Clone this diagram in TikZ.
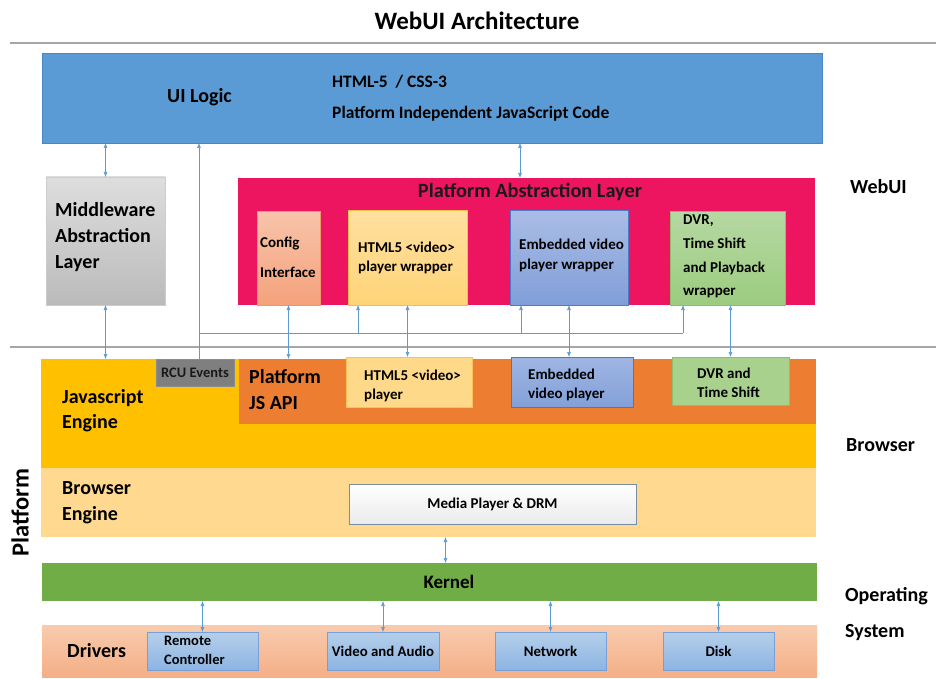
\documentclass[tikz,border=0pt]{standalone}
\usepackage{fontspec}
\setmainfont{Carlito}
\usetikzlibrary{arrows.meta}
\definecolor{uiblue}{HTML}{5B9BD5}
\definecolor{uiborder}{HTML}{4A86BF}
\definecolor{arrowblue}{HTML}{5B9BD5}
\definecolor{palpink}{HTML}{EE1560}
\definecolor{jsyellow}{HTML}{FFC000}
\definecolor{jsorange}{HTML}{ED7D31}
\definecolor{browserlt}{HTML}{FFD98F}
\definecolor{kernelgreen}{HTML}{70AD47}
\definecolor{rcugray}{HTML}{7F7F7F}
\tikzset{
  blk/.style={inner sep=0pt, outer sep=0pt, anchor=north west},
  conn/.style={draw=arrowblue, line width=0.6pt},
  dbl/.style={conn, {Latex[length=5pt,width=4pt]}-{Latex[length=5pt,width=4pt]}},
  upar/.style={conn, -{Latex[length=5pt,width=4pt]}},
  big/.style={font=\bfseries\fontsize{20}{26}\selectfont, inner sep=0pt, align=left, anchor=west},
  small/.style={font=\bfseries\fontsize{15}{19}\selectfont, inner sep=0pt, align=left, anchor=west},
  sepline/.style={draw=gray!70, line width=1.4pt},
}
\begin{document}
\begin{tikzpicture}[x=1pt,y=-1pt]
\useasboundingbox (0,0) rectangle (936,679);
% title and separators
\node[font=\bfseries\fontsize{25}{28}\selectfont, inner sep=0pt] (title) at (477,21) {WebUI Architecture};
\draw[sepline] (10,43) -- (936,43);
\draw[sepline] (10,347) -- (936,347);

% UI Logic
\node[blk, fill=uiblue, draw=uiborder, line width=0.5pt, minimum width=780pt, minimum height=90pt] (ui) at (42,53) {};
\node[big] (uilbl) at (167,97) {UI Logic};
\node[font=\bfseries\fontsize{17.5}{20}\selectfont, inner sep=0pt, anchor=west] (html) at (332,82) {HTML-5 \ / CSS-3};
\node[font=\bfseries\fontsize{17.5}{20}\selectfont, inner sep=0pt, anchor=west] (pijs) at (332,114) {Platform Independent JavaScript Code};

% Middleware
\node[blk, top color=black!13, bottom color=black!27, draw=black!20, line width=0.4pt, minimum width=119pt, minimum height=128pt] (mw) at (46,177) {};
\node[big] (mwlbl) at (55,237) {Middleware\\Abstraction\\Layer};

% Platform Abstraction Layer
\node[blk, fill=palpink, minimum width=577pt, minimum height=127pt] (pal) at (238,178) {};
\node[font=\bfseries\fontsize{20.3}{24}\selectfont, inner sep=0pt, text=black!90] (pallbl) at (530,192) {Platform Abstraction Layer};
\node[blk, top color={rgb,255:red,248;green,196;blue,170}, bottom color={rgb,255:red,244;green,162;blue,124}, draw={rgb,255:red,240;green,150;blue,110}, line width=0.4pt, minimum width=63pt, minimum height=94pt] (cfg) at (257,211) {};
\node[small, font=\bfseries\fontsize{15}{30}\selectfont] (cfglbl) at (260,257) {Config\\Interface};
\node[blk, top color={rgb,255:red,255;green,224;blue,160}, bottom color={rgb,255:red,255;green,212;blue,120}, draw={rgb,255:red,244;green,190;blue,80}, line width=0.4pt, minimum width=119pt, minimum height=95pt] (hw) at (348,210) {};
\node[small] (hwlbl) at (358,257.5) {HTML5 <video>\\player wrapper};
\node[blk, top color={rgb,255:red,170;green,189;blue,230}, bottom color={rgb,255:red,128;green,158;blue,216}, draw={rgb,255:red,80;green,120;blue,200}, line width=0.4pt, minimum width=118pt, minimum height=95pt] (ew) at (510,210) {};
\node[small, font=\bfseries\fontsize{15}{20}\selectfont] (ewlbl) at (519,255) {Embedded video\\player wrapper};
\node[blk, top color={rgb,255:red,182;green,216;blue,162}, bottom color={rgb,255:red,156;green,204;blue,128}, draw={rgb,255:red,140;green,190;blue,110}, line width=0.4pt, minimum width=115pt, minimum height=94pt] (dw) at (670,211) {};
\node[small, font=\bfseries\fontsize{15}{23.7}\selectfont] (dwlbl) at (683,256.5) {DVR,\\Time Shift\\and Playback\\wrapper};

% right labels
\node[big] (webui) at (850,187) {WebUI};
\node[big] (browser) at (846,445) {Browser};
\node[big, font=\bfseries\fontsize{20}{36}\selectfont] (os) at (845,614) {Operating\\System};

% Javascript engine
\node[blk, fill=jsyellow, minimum width=775pt, minimum height=109pt] (js) at (41,359) {};
\node[big, font=\bfseries\fontsize{20}{25}\selectfont] (jslbl) at (62,410.5) {Javascript\\Engine};
\node[blk, fill=rcugray, draw=black!45, line width=0.4pt, minimum width=78pt, minimum height=27pt] (rcu) at (156,359) {};
\node[font=\bfseries\fontsize{14.5}{16}\selectfont, text=black!90, inner sep=0pt] (rculbl) at (rcu.center) {RCU Events};
\node[blk, fill=jsorange, minimum width=577pt, minimum height=65pt] (jsapi) at (239,359) {};
\node[big, font=\bfseries\fontsize{20}{26}\selectfont] (jsapilbl) at (249,390) {Platform\\JS API};
\node[blk, fill={rgb,255:red,255;green,217;blue,138}, draw={rgb,255:red,250;green,195;blue,90}, line width=0.4pt, minimum width=126pt, minimum height=50pt] (hp) at (346,357) {};
\node[small] (hplbl) at (364,385.5) {HTML5 <video>\\player};
\node[blk, top color={rgb,255:red,160;green,182;blue,228}, bottom color={rgb,255:red,130;green,160;blue,216}, draw={rgb,255:red,80;green,115;blue,195}, line width=0.4pt, minimum width=122pt, minimum height=50pt] (ep) at (511,357) {};
\node[small] (eplbl) at (528,384.5) {Embedded\\video player};
\node[blk, fill={rgb,255:red,169;green,209;blue,142}, draw={rgb,255:red,140;green,190;blue,110}, line width=0.4pt, minimum width=117pt, minimum height=48pt] (dp) at (672,357) {};
\node[small] (dplbl) at (697,382.5) {DVR and\\Time Shift};

% Browser engine
\node[blk, fill=browserlt, minimum width=775pt, minimum height=69pt] (be) at (41,468) {};
\node[big, font=\bfseries\fontsize{20}{26}\selectfont] (belbl) at (62,503) {Browser\\Engine};
\node[blk, top color=white, bottom color=black!8, draw={rgb,255:red,120;green,140;blue,170}, line width=0.6pt, minimum width=287pt, minimum height=40pt] (mp) at (349,484) {};
\node[font=\bfseries\fontsize{15}{17}\selectfont, inner sep=0pt] (mplbl) at (mp.center) {Media Player \& DRM};

% Platform vertical label
\node[font=\bfseries\fontsize{24.5}{26}\selectfont, inner sep=0pt, rotate=90] (platv) at (20,513) {Platform};

% Kernel
\node[blk, fill=kernelgreen, minimum width=775pt, minimum height=38pt] (kern) at (42,563) {};
\node[font=\bfseries\fontsize{19}{22}\selectfont, inner sep=0pt] (kernlbl) at (449,582) {Kernel};

% Drivers
\node[blk, top color={rgb,255:red,248;green,203;blue,173}, bottom color={rgb,255:red,244;green,175;blue,135}, minimum width=775pt, minimum height=52pt] (drv) at (42,625) {};
\node[big] (drvlbl) at (67,651) {Drivers};
\tikzset{drvbox/.style={blk, top color={rgb,255:red,180;green,207;blue,234}, bottom color={rgb,255:red,141;green,180;blue,226}, draw={rgb,255:red,120;green,160;blue,215}, line width=0.4pt, minimum width=111pt, minimum height=38pt}}
\node[drvbox] (rc) at (147,632) {};
\node[small, font=\bfseries\fontsize{14.5}{19}\selectfont] (rclbl) at (164,650) {Remote\\Controller};
\node[drvbox, minimum width=112pt] (va) at (327,632) {};
\node[font=\bfseries\fontsize{14.8}{16}\selectfont, inner sep=0pt] (valbl) at (va.center) {Video and Audio};
\node[drvbox] (net) at (495,632) {};
\node[font=\bfseries\fontsize{14.8}{16}\selectfont, inner sep=0pt] (netlbl) at (net.center) {Network};
\node[drvbox] (disk) at (663,632) {};
\node[font=\bfseries\fontsize{14.8}{16}\selectfont, inner sep=0pt] (disklbl) at (disk.center) {Disk};

% connectors
\draw[dbl] (ui.south -| mw.north) -- (mw.north);
\draw[dbl] (mw.south) -- (mw.south |- js.north);
\draw[dbl] ([xshift=-6.5pt]pal.north |- ui.south) -- ([xshift=-6.5pt]pal.north);
\draw[dbl] (cfg.south) -- (cfg.south |- jsapi.north);
\draw[dbl] (hw.south) -- (hw.south |- hp.north);
\draw[dbl] (ew.south) -- (ew.south |- ep.north);
\draw[dbl] (dp.north |- dw.south) -- (dp.north);
% RCU bus
\coordinate (busL) at ([xshift=4pt]rcu.north |- 0,333);
\coordinate (busR) at ([xshift=13pt]dw.south west |- 0,333);
\draw[upar] ([xshift=4pt]rcu.north) -- ([xshift=4pt]rcu.north |- ui.south);
\draw[conn] (busL) -- (busR);
\draw[upar] ([xshift=10pt]hw.south west |- busL) -- ([xshift=10pt]hw.south west);
\draw[upar] ([xshift=11pt]ew.south west |- busL) -- ([xshift=11pt]ew.south west);
\draw[upar] (busR) -- ([xshift=13pt]dw.south west);
% lower connectors
\draw[dbl] ([xshift=17pt]be.south) -- ([xshift=17pt]be.south |- kern.north);
\draw[dbl] (rc.north |- kern.south) -- (rc.north);
\draw[dbl] (va.north |- kern.south) -- (va.north);
\draw[dbl] (net.north |- kern.south) -- (net.north);
\draw[dbl] (disk.north |- kern.south) -- (disk.north);
\end{tikzpicture}
\end{document}
